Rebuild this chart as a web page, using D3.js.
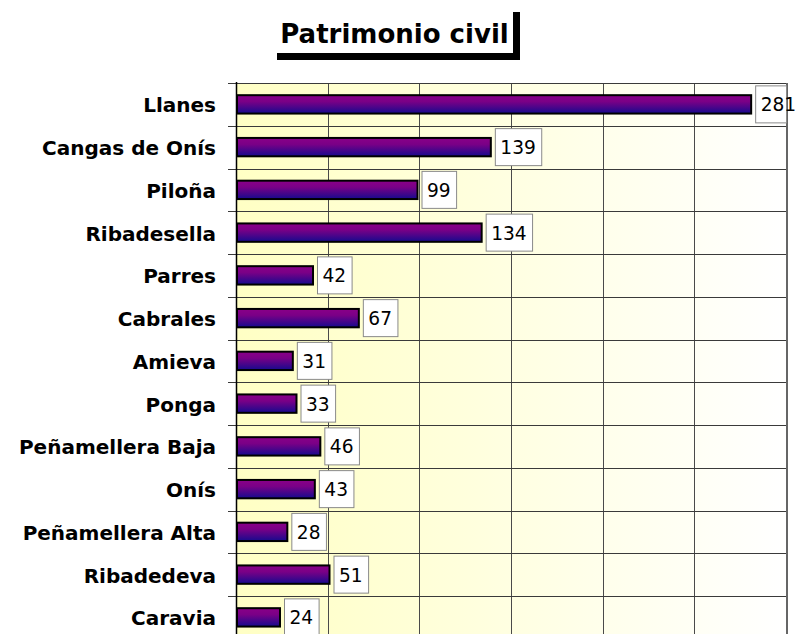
<!DOCTYPE html>
<meta charset="utf-8">
<html>
<head>
  <title>Patrimonio civil</title>
  <script src="https://cdn.jsdelivr.net/npm/d3@7"></script>
  <style>
    body { margin: 0; background: #fff; }
    text { font-family: "DejaVu Sans", Verdana, sans-serif; }
  </style>
</head>
<body>
  <svg id="svg" width="799" height="634"></svg>
  <script>
    // data
    var categories = ["Llanes", "Cangas de Onís", "Piloña", "Ribadesella", "Parres", "Cabrales",
      "Amieva", "Ponga", "Peñamellera Baja", "Onís", "Peñamellera Alta", "Ribadedeva", "Caravia"];
    var values = [281, 139, 99, 134, 42, 67, 31, 33, 46, 43, 28, 51, 24];
    var xMax = 300;

    var rows = categories.map(function (c, i) { return { name: c, value: values[i] }; });

    var svg = d3.select("#svg");

    var plotL = 236, plotR = 786, plotT = 83, rowH = 42.75;

    var x = d3.scaleLinear().domain([0, xMax]).range([plotL, plotR]);
    var y = d3.scaleBand().domain(categories).range([plotT, plotT + rowH * categories.length]).padding(0);
    var plotB = y.range()[1];
    var barH = y.bandwidth() * 0.43;

    var defs = svg.append("defs");
    var bg = defs.append("linearGradient").attr("id", "bg")
      .attr("x1", "0%").attr("x2", "100%").attr("y1", "0%").attr("y2", "0%");
    bg.append("stop").attr("offset", "0%").attr("stop-color", "#ffffc4");
    bg.append("stop").attr("offset", "100%").attr("stop-color", "#ffffff");

    var barGrad = defs.append("linearGradient").attr("id", "bar")
      .attr("x1", "0%").attr("x2", "0%").attr("y1", "0%").attr("y2", "100%");
    barGrad.append("stop").attr("offset", "0%").attr("stop-color", "#8a0088");
    barGrad.append("stop").attr("offset", "35%").attr("stop-color", "#7a0086");
    barGrad.append("stop").attr("offset", "100%").attr("stop-color", "#160a8e");

    // Title with shadow box
    svg.append("rect").attr("x", 277).attr("y", 12).attr("width", 243).attr("height", 48).attr("fill", "#000");
    svg.append("rect").attr("x", 270).attr("y", 5).attr("width", 243).attr("height", 48).attr("fill", "#fff");
    svg.append("text")
      .attr("x", 394.5).attr("y", 43)
      .attr("text-anchor", "middle")
      .attr("font-size", "26px").attr("font-weight", "bold")
      .text("Patrimonio civil");

    // Plot background
    svg.append("rect")
      .attr("x", plotL).attr("y", plotT)
      .attr("width", plotR - plotL).attr("height", plotB - plotT)
      .attr("fill", "url(#bg)");

    // vertical gridlines
    svg.append("g").selectAll("line")
      .data(x.ticks(6))
      .enter().append("line")
      .attr("x1", function (d) { return Math.round(x(d)) + 0.5; })
      .attr("x2", function (d) { return Math.round(x(d)) + 0.5; })
      .attr("y1", plotT).attr("y2", plotB)
      .attr("stroke", "#4a4a4a");

    // horizontal lines at category boundaries, with ticks out to the left
    var bounds = categories.map(function (c) { return y(c); });
    svg.append("g").selectAll("line")
      .data(bounds)
      .enter().append("line")
      .attr("x1", plotL - 8).attr("x2", plotR)
      .attr("y1", function (d) { return Math.round(d) + 0.5; })
      .attr("y2", function (d) { return Math.round(d) + 0.5; })
      .attr("stroke", "#3a3a3a");

    // axis line and right border
    svg.append("line").attr("x1", plotL + 0.5).attr("x2", plotL + 0.5)
      .attr("y1", plotT - 1).attr("y2", plotB).attr("stroke", "#000").attr("stroke-width", 1.5);
    svg.append("line").attr("x1", plotR + 1).attr("x2", plotR + 1)
      .attr("y1", plotT).attr("y2", plotB).attr("stroke", "#666").attr("stroke-width", 2);

    // category labels
    svg.append("g").selectAll("text")
      .data(rows)
      .enter().append("text")
      .attr("x", 216)
      .attr("y", function (d) { return y(d.name) + y.bandwidth() / 2; })
      .attr("dy", "0.4em")
      .attr("text-anchor", "end")
      .attr("font-size", "20px").attr("font-weight", "bold")
      .text(function (d) { return d.name; });

    // bars
    svg.append("g").selectAll("rect")
      .data(rows)
      .enter().append("rect")
      .attr("x", x(0) + 1)
      .attr("y", function (d) { return y(d.name) + (y.bandwidth() - barH) / 2; })
      .attr("width", function (d) { return x(d.value) - x(0) - 1; })
      .attr("height", barH)
      .attr("fill", "url(#bar)")
      .attr("stroke", "#000").attr("stroke-width", 2);

    // value labels in white boxes
    var labels = svg.append("g").selectAll("g")
      .data(rows)
      .enter().append("g")
      .attr("transform", function (d) {
        return "translate(" + (x(d.value) + 4) + "," + (y(d.name) + y.bandwidth() / 2) + ")";
      });
    var boxH = 37;
    labels.append("rect")
      .attr("x", 0.5).attr("y", -boxH / 2)
      .attr("width", function (d) {
        var w = String(d.value).length * 11.8 + 11;
        return Math.min(w, plotR - x(d.value) - 4);
      })
      .attr("height", boxH)
      .attr("fill", "#fff").attr("stroke", "#8a8a8a");
    labels.append("text")
      .attr("x", 5.5).attr("dy", "0.37em")
      .attr("font-size", "18.6px")
      .text(function (d) { return d.value; });
  </script>
</body>
</html>
